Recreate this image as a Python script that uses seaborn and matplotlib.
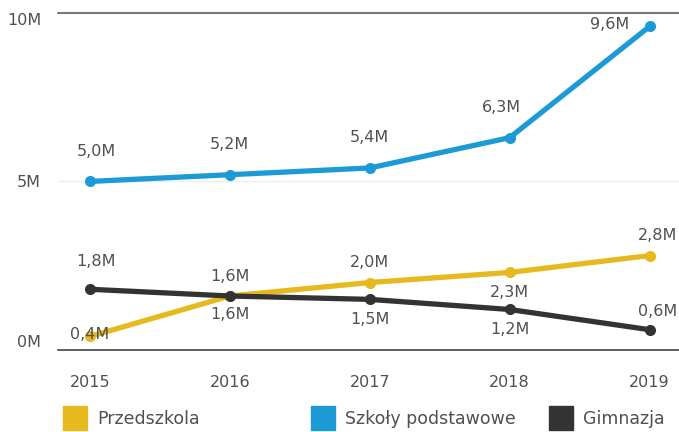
import pandas as pd
import seaborn as sns
import matplotlib.pyplot as plt
from matplotlib.lines import Line2D

years = [2015, 2016, 2017, 2018, 2019]
przedszkola = [0.4, 1.6, 2.0, 2.3, 2.8]
szkoly = [5.0, 5.2, 5.4, 6.3, 9.6]
gimnazja = [1.8, 1.6, 1.5, 1.2, 0.6]
series_names = ["Przedszkola", "Szkoły podstawowe", "Gimnazja"]
y_ticks = [0, 5, 10]
y_tick_labels = ["0M", "5M", "10M"]

colors = {"Przedszkola": "#E6B91E", "Szkoły podstawowe": "#1C9AD6", "Gimnazja": "#333333"}

df = pd.DataFrame({
    "rok": years * 3,
    "wartosc": przedszkola + szkoly + gimnazja,
    "typ": [series_names[0]] * 5 + [series_names[1]] * 5 + [series_names[2]] * 5,
})

sns.set_style("white")
plt.rcParams["font.family"] = ["DejaVu Sans"]
txt = "#505050"

fig = plt.figure(figsize=(6.79, 4.32), dpi=100)
ax = fig.add_axes([0.085, 0.19, 0.915, 0.78])

sns.lineplot(data=df, x="rok", y="wartosc", hue="typ", palette=colors,
             marker="o", markersize=8, markeredgewidth=0, linewidth=3.8,
             legend=False, ax=ax)

# label offsets in pixels (dx, dy) per series / year
offs = {
    "Przedszkola": [(0, 2), (0, 20), (0, 20), (0, -20), (8, 20)],
    "Szkoły podstawowe": [(6, 30), (0, 30), (0, 30), (-8, 30), (-40, 2)],
    "Gimnazja": [(6, 28), (0, -18), (0, -20), (0, -20), (8, 18)],
}
vals = {"Przedszkola": przedszkola, "Szkoły podstawowe": szkoly, "Gimnazja": gimnazja}
for name in series_names:
    for i, yr in enumerate(years):
        v = vals[name][i]
        ax.annotate(f"{v:.1f}M".replace(".", ","), (yr, v), xytext=offs[name][i],
                    textcoords="offset pixels", ha="center", va="center",
                    fontsize=11.5, color=txt)

ax.set_xlim(2015 - 0.23, 2019 + 0.21)
ax.set_ylim(0, 10)
ax.set_xticks(years)
ax.set_yticks(y_ticks)
ax.set_yticklabels(y_tick_labels)
ax.set_xlabel("")
ax.set_ylabel("")
ax.tick_params(axis="both", length=0, labelsize=11.5, labelcolor=txt)
ax.tick_params(axis="x", pad=18)
ax.tick_params(axis="y", pad=12)
labs = ax.get_yticklabels()
labs[0].set_va("bottom")
labs[2].set_va("top")

for s in ["left", "right", "top"]:
    ax.spines[s].set_visible(False)
ax.spines["bottom"].set_color("#444444")
ax.spines["bottom"].set_linewidth(1.2)
ax.axhline(10, color="#777777", linewidth=1.5, clip_on=False, zorder=0)
ax.axhline(5, color="#eeeeee", linewidth=1, zorder=0)

xs = [0.085, 0.45, 0.8]
for name, x in zip(series_names, xs):
    h = Line2D([], [], marker="s", linestyle="", markersize=17, color=colors[name])
    fig.legend([h], [name], loc="center left", bbox_to_anchor=(x, 0.03),
               frameon=False, fontsize=12.5, labelcolor=txt, handletextpad=0.3,
               borderaxespad=0, borderpad=0)

fig.savefig("out.png", dpi=100)
